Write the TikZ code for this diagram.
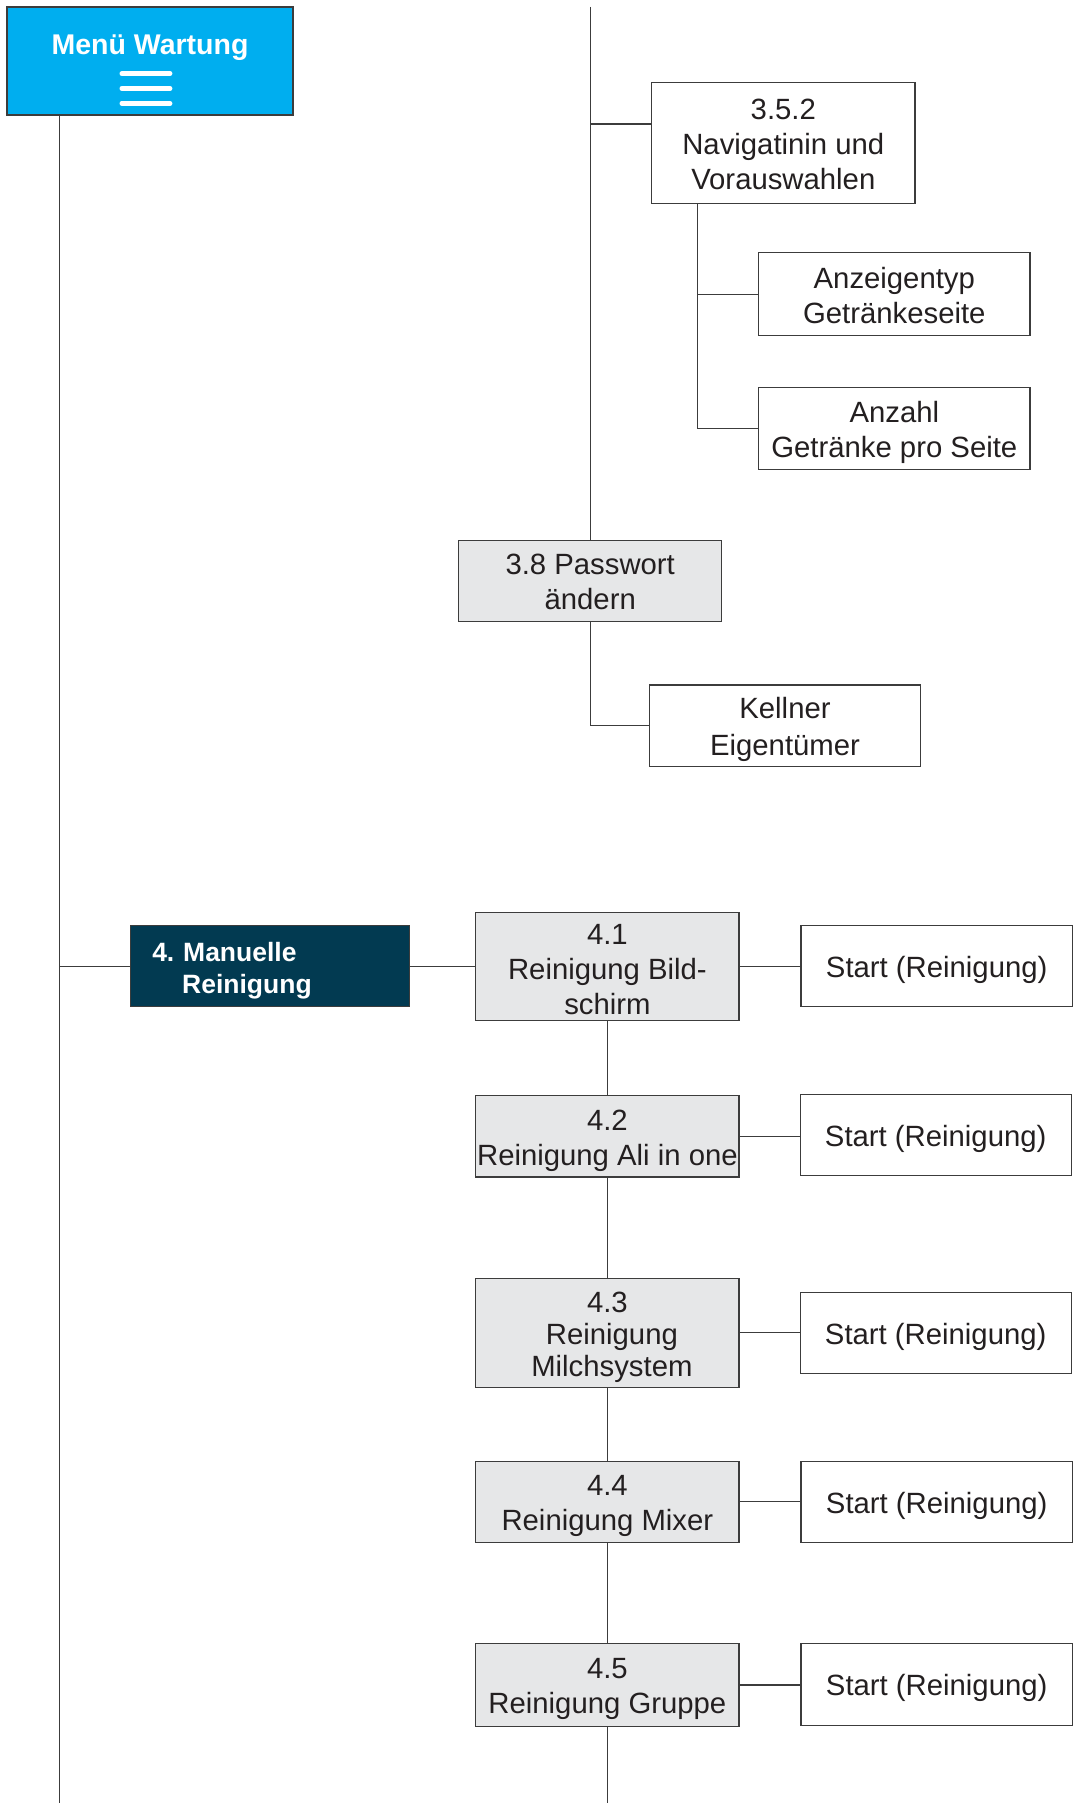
\documentclass[tikz,border=0pt]{standalone}
\usepackage{fontspec}
\setmainfont{Liberation Sans}
\definecolor{menucyan}{HTML}{00AEEF}
\definecolor{navy}{HTML}{023A51}
\definecolor{boxgray}{HTML}{E6E7E8}
\definecolor{txt}{HTML}{231F20}
\definecolor{linec}{HTML}{3C3C3C}
\newcommand\toppad[1]{\rule{0pt}{#1pt}}
\tikzset{
  conn/.style={draw=linec, line width=1.2pt},
  box/.style={draw=linec, line width=1.1pt, inner sep=0pt, align=center,
    text=txt, font=\fontsize{29.3}{35}\selectfont, fill=white},
  graybox/.style={box, fill=boxgray},
}
\begin{document}
\frenchspacing
\begin{tikzpicture}[x=1pt,y=-1pt]
\useasboundingbox (0,0) rectangle (1077,1803);
\fill[white] (0,0) rectangle (1077,1803);

% Menu box
\node[draw=linec, line width=1.2pt, fill=menucyan, minimum width=286.1pt, minimum height=108.1pt, inner sep=0pt] (menu) at (150,61) {};
\node[text=white, font=\fontsize{28.5}{34}\selectfont\bfseries, inner sep=0pt] (menutitle) at (150,47.5) {Menü Wartung};
\draw[white, line width=4.6pt, line cap=round] (121.8,73.6) -- (170.1,73.6);
\draw[white, line width=4.6pt, line cap=round] (121.8,88.5) -- (170.1,88.5);
\draw[white, line width=4.6pt, line cap=round] (121.8,103.4) -- (170.1,103.4);

% Section 3 nodes
\node[box, minimum width=263.3pt, minimum height=120.6pt] (nav) at (783.3,143.1) {\toppad{24}3.5.2\\Navigatinin und\\Vorauswahlen};
\node[box, minimum width=271.4pt, minimum height=82.7pt] (anz) at (894.3,294.3) {\toppad{24.5}Anzeigentyp\\Getränkeseite};
\node[box, minimum width=271.4pt, minimum height=81.7pt] (anzg) at (894.3,428.2) {\toppad{29}Anzahl\\Getränke pro Seite};
\node[graybox, minimum width=263.2pt, minimum height=81.6pt] (pw) at (590.2,581) {\toppad{23}3.8 Passwort\\ändern};
\node[box, minimum width=271.3pt, minimum height=81.6pt, font=\fontsize{29.3}{37}\selectfont] (kell) at (785,725.8) {\toppad{28}Kellner\\Eigentümer};

% Section 4 nodes
\node[draw=linec, line width=1.1pt, fill=navy, text=white, anchor=west,
  inner xsep=21.8pt, inner ysep=0pt, text width=235.7pt, minimum height=81.6pt,
  align=left, font=\fontsize{26.5}{32}\selectfont\bfseries] (man) at (129.9,966.1)
  {\toppad{27.5}4. Manuelle\\\hspace*{29.9pt}Reinigung};
\node[graybox, minimum width=263.1pt, minimum height=108.1pt] (r41) at (607.4,966.7) {\toppad{25.5}4.1\\Reinigung Bild-\\schirm};
\node[box, minimum width=271.4pt, minimum height=81.6pt] (s1) at (936.7,966.1) {\toppad{29}Start (Reinigung)};
\node[graybox, minimum width=263.1pt, minimum height=81.6pt] (r42) at (607.4,1136.2) {\toppad{29}4.2\\Reinigung Ali in one};
\node[box, minimum width=271.3pt, minimum height=81.6pt] (s2) at (935.7,1135) {\toppad{29}Start (Reinigung)};
\node[graybox, minimum width=263.1pt, minimum height=109.2pt, font=\fontsize{29.3}{32}\selectfont] (r43) at (607.4,1332.7) {\toppad{29}4.3\\\hspace*{9pt}Reinigung\\\hspace*{9pt}Milchsystem};
\node[box, minimum width=271.3pt, minimum height=81.5pt] (s3) at (935.7,1332.8) {\toppad{29}Start (Reinigung)};
\node[graybox, minimum width=263.1pt, minimum height=81.5pt] (r44) at (607.4,1501.8) {\toppad{29}4.4\\Reinigung Mixer};
\node[box, minimum width=271.4pt, minimum height=81.5pt] (s4) at (936.7,1501.8) {\toppad{29}Start (Reinigung)};
\node[graybox, minimum width=263.1pt, minimum height=82.8pt] (r45) at (607.4,1685) {\toppad{29}4.5\\Reinigung Gruppe};
\node[box, minimum width=271.4pt, minimum height=81.6pt] (s5) at (936.7,1684.4) {\toppad{29}Start (Reinigung)};

% coordinates
\coordinate (Lb) at (59.8,1803);
\coordinate (T3) at (590.8,7);
\coordinate (j352) at (590.8,124);
\coordinate (sx) at (697.7,0);
\coordinate (bot) at (0,1803);

% connectors
\draw[conn] (menu.south -| Lb) -- (Lb);
\draw[conn] (Lb |- man.west) -- (man.west);
\draw[conn] (T3) -- (T3 |- pw.north);
\draw[conn] (j352) -- (j352 -| nav.west);
\draw[conn] (nav.south -| sx) -- (sx |- anzg.west) -- (anzg.west);
\draw[conn] (sx |- anz.west) -- (anz.west);
\draw[conn] (pw.south) -- (pw.south |- kell.west) -- (kell.west);

\draw[conn] (man.east) -- (man.east -| r41.west);
\draw[conn] (r41.east |- s1.west) -- (s1.west);
\draw[conn] (r41.south) -- (r42.north);
\draw[conn] (r42.east) -- (r42.east -| s2.west);
\draw[conn] (r42.south) -- (r43.north);
\draw[conn] (r43.east) -- (r43.east -| s3.west);
\draw[conn] (r43.south) -- (r44.north);
\draw[conn] (r44.east) -- (r44.east -| s4.west);
\draw[conn] (r44.south) -- (r45.north);
\draw[conn] (r45.east) -- (r45.east -| s5.west);
\draw[conn] (r45.south) -- (r45.south |- bot);
\end{tikzpicture}
\end{document}
